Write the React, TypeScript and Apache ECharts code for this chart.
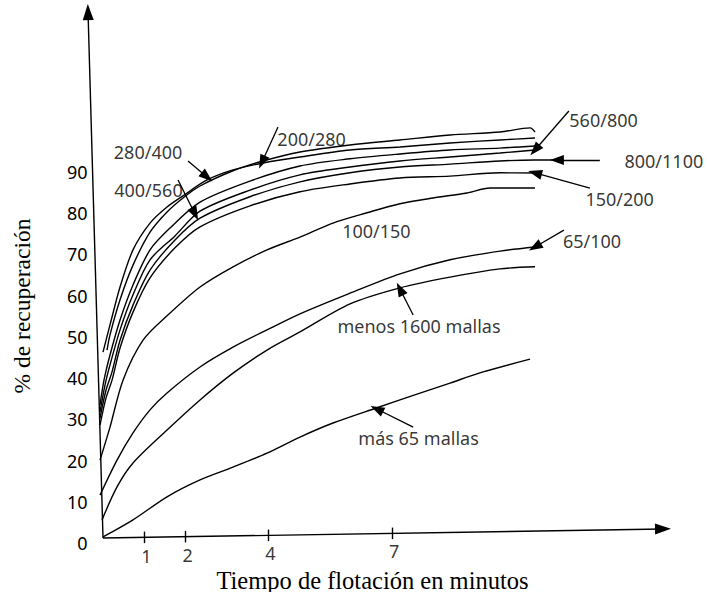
import React, { useEffect, useRef } from "react";
import * as echarts from "echarts";

// ---- data (t = minutes, v = % recuperación) ----
const xTickValues = [1, 2, 4, 7];
const yTickMaxLabel = 90;

const s200_280 = [[0.097, 46.8], [0.169, 50.5], [0.412, 59.0], [0.726, 67.4], [1.138, 75.4], [1.55, 80.3], [1.937, 83.7], [2.349, 86.6], [3.148, 90.3], [3.874, 92.67], [4.77, 94.86], [5.981, 96.56], [7.191, 97.77], [8.402, 98.98], [9.613, 99.7], [10.34, 100.7], [10.46, 99.7]];
const s280_400 = [[0, 46.3], [0.169, 52.9], [0.412, 62.1], [0.726, 71.1], [1.138, 77.6], [1.55, 81.5], [1.937, 84.2], [2.518, 88.06], [3.148, 90.5], [3.874, 92.19], [4.77, 93.64], [5.981, 95.34], [7.191, 96.07], [8.402, 97.04], [9.613, 97.77], [10.46, 98.25]];
const s560_800 = [[-0.073, 33.5], [0.024, 39.5], [0.169, 45.6], [0.412, 54.1], [0.726, 62.6], [1.138, 71.1], [1.622, 76.4], [2.349, 82.7], [3.559, 87.8], [4.77, 91.46], [5.981, 93.2], [7.191, 94.37], [8.402, 95.34], [9.613, 95.8], [10.46, 96.31]];
const s400_560 = [[-0.073, 31.8], [0.048, 38.3], [0.169, 43.2], [0.412, 51.7], [0.726, 60.2], [1.138, 68.7], [1.743, 74.5], [2.349, 80.5], [3.559, 85.6], [4.77, 89.3], [5.981, 91.2], [7.191, 92.67], [8.402, 93.64], [9.613, 94.6], [10.46, 95.34]];
const s800_1100 = [[-0.073, 30.3], [0.073, 37.1], [0.218, 41.5], [0.412, 49.2], [0.726, 57.7], [1.138, 66.2], [1.743, 73.5], [2.349, 78.8], [3.559, 84.0], [4.77, 87.6], [5.981, 89.8], [7.191, 91.2], [8.402, 91.9], [9.613, 92.67], [10.46, 92.9], [10.99, 92.9]];
const s150_200 = [[-0.073, 28.6], [0.073, 35.2], [0.218, 39.5], [0.412, 47.3], [0.726, 56.0], [1.138, 64.3], [1.743, 71.6], [2.349, 76.7], [3.559, 81.8], [4.77, 85.2], [5.981, 87.1], [7.191, 88.55], [8.402, 89.0], [9.613, 89.8], [10.46, 89.76]];
const s100_150 = [[-0.073, 20.1], [0.169, 28.1], [0.484, 39.5], [0.969, 49.2], [1.55, 55.1], [2.349, 62.1], [3.148, 67.0], [3.971, 71.1], [4.77, 74.2], [5.569, 77.6], [6.392, 80.1], [7.191, 82.3], [7.99, 83.7], [8.814, 84.9], [9.37, 86.1], [10.46, 86.1]];
const s65_100 = [[-0.073, 11.6], [0.339, 20.1], [0.726, 26.7], [1.138, 32.3], [1.55, 36.4], [2.349, 42.7], [3.148, 47.5], [3.971, 51.7], [4.77, 55.6], [5.981, 60.6], [7.191, 65.3], [8.402, 68.7], [9.613, 70.8], [10.46, 71.8]];
const sMenos1600 = [[-0.024, 5.6], [0.339, 13.6], [0.726, 19.4], [1.55, 27.4], [2.349, 34.7], [3.148, 41.2], [3.971, 46.8], [4.77, 51.2], [5.981, 58.0], [7.191, 61.9], [8.402, 64.5], [9.613, 66.5], [10.46, 67.0]];
const sMas65 = [[0, 1.46], [0.726, 5.6], [1.55, 11.2], [2.349, 15.3], [3.148, 18.4], [3.971, 21.8], [4.77, 25.7], [5.569, 29.1], [6.634, 32.8], [7.603, 36.1], [8.402, 38.8], [9.201, 41.5], [10.34, 44.6]];

const curves = [
  { name: "200/280", data: s200_280 },
  { name: "280/400", data: s280_400 },
  { name: "560/800", data: s560_800 },
  { name: "400/560", data: s400_560 },
  { name: "800/1100", data: s800_1100 },
  { name: "150/200", data: s150_200 },
  { name: "100/150", data: s100_150 },
  { name: "65/100", data: s65_100 },
  { name: "menos 1600 mallas", data: sMenos1600 },
  { name: "más 65 mallas", data: sMas65 },
];

// annotation texts and their anchor (data coords)
const annotationTexts = ["280/400", "400/560", "200/280", "560/800", "800/1100", "150/200", "100/150", "65/100", "menos 1600 mallas", "más 65 mallas"];
const annotationAt = [[1.09, 94.9], [1.1, 85.6], [5.05, 98.0], [12.12, 102.6], [13.58, 92.7], [12.51, 83.5], [6.62, 75.7], [11.84, 73.3], [7.65, 52.6], [7.64, 25.5]];
// pointer arrows: from, to, curveness
const arrowFrom = [[2.058, 92.67], [1.816, 88.06], [4.237, 100.9], [11.28, 104.8], [12.03, 92.9], [11.79, 86.1], [11.16, 75.9], [7.51, 55.3], [7.51, 28.1]];
const arrowTo = [[2.518, 88.8], [2.228, 79.8], [3.85, 92.4], [10.46, 95.34], [10.99, 92.9], [10.46, 89.76], [10.46, 71.8], [7.19, 61.6], [6.63, 32.5]];
const arrowCurve = [0.4, -0.2, -0.4, 0, 0, 0, 0, 0, 0];

// hand-drawn slanted axes
const xAxisFrom = [0, 1.2];
const xAxisTo = [13.56, 3.4];
const yAxisTo = [-0.363, 128.8];

export default function App() {
  const ref = useRef<HTMLDivElement>(null);
  useEffect(() => {
    if (!ref.current) return;
    const chart = echarts.init(ref.current, undefined, { renderer: "svg" });
    const slope = (xAxisTo[1] - xAxisFrom[1]) / (xAxisTo[0] - xAxisFrom[0]);
    const axisV = (t: number) => xAxisFrom[1] + slope * t;
    const black = "#000";
    const lineSeries = curves.map((c) => ({
      type: "line",
      name: c.name,
      data: c.data,
      smooth: 0.3,
      symbol: "none",
      silent: true,
      lineStyle: { color: black, width: 1.4 },
    }));
    const option: any = {
      animation: false,
      grid: { left: 86.5, right: 25.8, top: 7.1, bottom: 7.8 },
      xAxis: {
        type: "value",
        min: -0.4,
        max: 14,
        show: false,
      },
      yAxis: {
        type: "value",
        min: -10,
        max: 130,
        interval: 10,
        axisLine: { show: false },
        axisTick: { show: false },
        splitLine: { show: false },
        axisLabel: {
          formatter: (v: number) => (v >= 0 && v <= yTickMaxLabel ? String(v) : ""),
          color: black,
          fontSize: 18,
          fontFamily: "Noto Sans",
          margin: -1,
        },
      },
      graphic: [
        {
          type: "text",
          x: 372.5,
          y: 580,
          style: {
            text: "Tiempo de flotación en minutos",
            fontSize: 24.5,
            fontFamily: "Liberation Serif",
            fill: black,
            align: "center",
            verticalAlign: "middle",
          },
        },
        {
          type: "text",
          x: 22,
          y: 306,
          rotation: Math.PI / 2,
          style: {
            text: "% de recuperación",
            fontSize: 23.5,
            fontFamily: "Liberation Serif",
            fill: black,
            align: "center",
            verticalAlign: "middle",
          },
        },
      ],
      series: [
        ...lineSeries,
        {
          type: "line",
          name: "axes",
          data: [xAxisFrom],
          symbol: "none",
          silent: true,
          lineStyle: { color: black, width: 1.4 },
          markLine: {
            silent: true,
            symbol: ["none", "triangle"],
            symbolSize: [11, 16],
            label: { show: false },
            lineStyle: { color: black, width: 1.4, type: "solid" },
            data: [
              [{ coord: xAxisFrom }, { coord: xAxisTo }],
              [{ coord: xAxisFrom }, { coord: yAxisTo }],
            ],
          },
        },
        {
          type: "line",
          name: "ticks",
          data: [xAxisFrom],
          symbol: "none",
          silent: true,
          markLine: {
            silent: true,
            symbol: ["none", "none"],
            label: { show: false },
            lineStyle: { color: black, width: 1.4, type: "solid" },
            data: xTickValues.map((t) => [
              { coord: [t, axisV(t) - 1.4] },
              { coord: [t, axisV(t) + 1.4] },
            ]),
          },
        },
        {
          type: "scatter",
          name: "tickLabels",
          data: xTickValues.map((t) => ({ name: String(t), value: [t + 0.05, axisV(t) - 4.4] })),
          symbolSize: 1,
          silent: true,
          itemStyle: { color: "rgba(0,0,0,0)" },
          label: { show: true, position: "inside", formatter: "{b}", color: black, fontSize: 18, fontFamily: "Noto Sans", lineHeight: 20 },
        },
        {
          type: "line",
          name: "pointers",
          data: [xAxisFrom],
          symbol: "none",
          silent: true,
          markLine: {
            silent: true,
            symbol: ["none", "triangle"],
            symbolSize: [10, 14],
            label: { show: false },
            lineStyle: { color: black, width: 1.3, type: "solid" },
            data: arrowFrom.map((f, i) => [
              { coord: f, lineStyle: { color: black, width: 1.3, type: "solid", curveness: arrowCurve[i] } },
              { coord: arrowTo[i] },
            ]),
          },
        },
        {
          type: "scatter",
          name: "annotations",
          data: annotationTexts.map((txt, i) => ({ name: txt, value: annotationAt[i] })),
          symbolSize: 1,
          silent: true,
          itemStyle: { color: "rgba(0,0,0,0)" },
          label: { show: true, position: "inside", formatter: "{b}", color: black, fontSize: 18, fontFamily: "Noto Sans" },
        },
      ],
    };
    chart.setOption(option);
    return () => chart.dispose();
  }, []);
  return (
    <div
      ref={ref}
      style={{ position: "fixed", left: 0, top: 0, width: 707, height: 592, background: "#fff" }}
    />
  );
}
